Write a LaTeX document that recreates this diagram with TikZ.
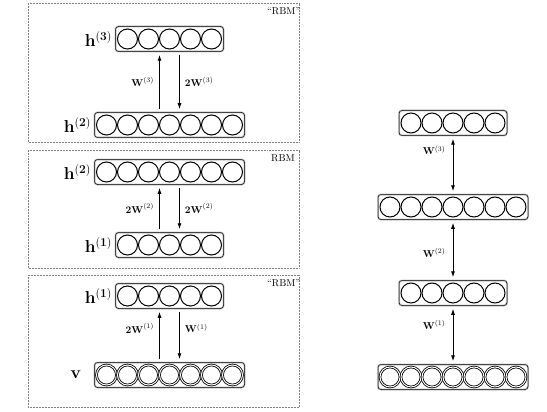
\documentclass[tikz,border=0pt]{standalone}
\usepackage{tikz}
\usetikzlibrary{positioning,arrows.meta}

\tikzset{
  layerbox/.style={draw, rounded corners=3pt, minimum height=25pt, inner sep=0pt,
    line width=0.5pt, preaction={draw=gray!45, line width=2pt}},
  unit/.style={draw, line width=1pt},
  visunit/.style={draw, double, double distance=1pt, line width=0.8pt},
  frame/.style={densely dotted, gray, line width=0.5pt},
  hlab/.style={font=\LARGE, inner sep=1pt},
  wlab/.style={font=\normalsize, inner sep=1pt},
  arr/.style={-{Latex[length=6pt,width=4pt]}, line width=0.9pt, shorten >=3pt, shorten <=3pt},
  darr/.style={{Latex[length=6pt,width=4pt]}-{Latex[length=6pt,width=4pt]}, line width=0.9pt, shorten >=3pt, shorten <=3pt},
}

% #1 name, #2 x, #3 y, #4 number of units, #5 unit style
\newcommand{\layer}[5]{
  \node[layerbox, minimum width=#4*21pt+3pt] (#1) at (#2,#3) {};
  \foreach \i in {1,...,#4}
    \draw[#5] (#2-#4*10.5+\i*21-10.5,#3) circle (10pt);
}

\begin{document}
\begin{tikzpicture}[x=1pt,y=-1pt]
    \useasboundingbox (0,0) rectangle (547,412);

    %Top frame
    \draw[frame] (28,3) rectangle (299,142);
    \node[anchor=north west, inner sep=1pt] (rbm3) at (266,6) {``RBM''};
    \layer{h3}{169.5}{39}{5}{unit}
    \layer{h2a}{169.5}{125}{7}{unit}
    \node[hlab, left=2pt of h3] (lh3) {$\mathbf{h}^{(\mathbf{3})}$};
    \node[hlab, left=2pt of h2a] (lh2a) {$\mathbf{h}^{(\mathbf{2})}$};
    \draw[arr] ([xshift=-10pt]h2a.north) -- ([xshift=-10pt]h3.south)
        node[wlab, midway, left=4pt] {$\mathbf{W}^{(3)}$};
    \draw[arr] ([xshift=10pt]h3.south) -- ([xshift=10pt]h2a.north)
        node[wlab, midway, right=4pt] {$\mathbf{2W}^{(3)}$};

    %Middle frame
    \draw[frame] (28,150) rectangle (299,268);
    \node[anchor=north west, inner sep=1pt] (rbm2) at (270,153) {RBM};
    \layer{h2b}{169.5}{172}{7}{unit}
    \layer{h1a}{169.5}{245}{5}{unit}
    \node[hlab, left=2pt of h2b] (lh2b) {$\mathbf{h}^{(\mathbf{2})}$};
    \node[hlab, left=2pt of h1a] (lh1a) {$\mathbf{h}^{(\mathbf{1})}$};
    \draw[arr] ([xshift=-10pt]h1a.north) -- ([xshift=-10pt]h2b.south)
        node[wlab, midway, left=4pt] {$\mathbf{2W}^{(2)}$};
    \draw[arr] ([xshift=10pt]h2b.south) -- ([xshift=10pt]h1a.north)
        node[wlab, midway, right=4pt] {$\mathbf{2W}^{(2)}$};

    %Bottom frame
    \draw[frame] (28,275) rectangle (299,407);
    \node[anchor=north west, inner sep=1pt] (rbm1) at (266,278) {``RBM''};
    \layer{h1b}{169.5}{296}{5}{unit}
    \layer{v}{169.5}{375}{7}{visunit}
    \node[hlab, left=2pt of h1b] (lh1b) {$\mathbf{h}^{(\mathbf{1})}$};
    \node[hlab, left=12pt of v] (lv) {$\mathbf{v}$};
    \draw[arr] ([xshift=-10pt]v.north) -- ([xshift=-10pt]h1b.south)
        node[wlab, pos=0.63, left=4pt] {$\mathbf{2W}^{(1)}$};
    \draw[arr] ([xshift=10pt]h1b.south) -- ([xshift=10pt]v.north)
        node[wlab, pos=0.37, right=4pt] {$\mathbf{W}^{(1)}$};

    %Right stack
    \layer{r3}{453}{123}{5}{unit}
    \layer{r2}{453}{207}{7}{unit}
    \layer{r1}{453}{293}{5}{unit}
    \layer{rv}{453}{377}{7}{visunit}
    \draw[darr] (r3.south) -- (r2.north) node[wlab, pos=0.25, left=6pt] {$\mathbf{W}^{(3)}$};
    \draw[darr] (r2.south) -- (r1.north) node[wlab, pos=0.55, left=6pt] {$\mathbf{W}^{(2)}$};
    \draw[darr] (r1.south) -- (rv.north) node[wlab, pos=0.33, left=6pt] {$\mathbf{W}^{(1)}$};
\end{tikzpicture}
\end{document}
